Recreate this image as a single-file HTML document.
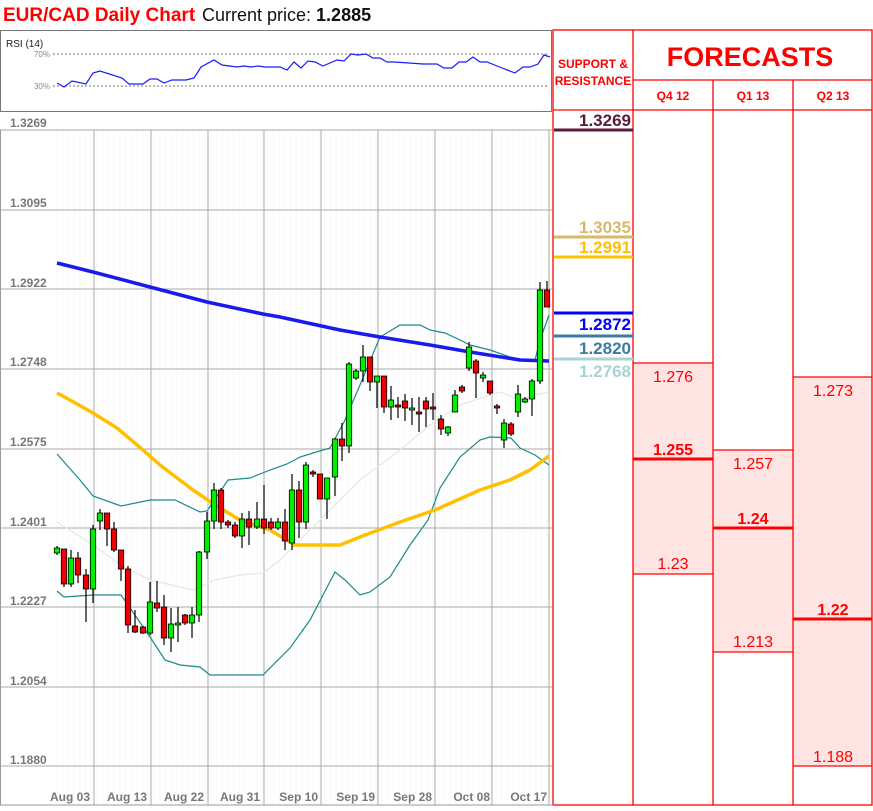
<!DOCTYPE html>
<html><head><meta charset="utf-8"><style>
body{margin:0;background:#fff;width:873px;height:806px;overflow:hidden;font-family:"Liberation Sans",sans-serif}
svg text{font-family:"Liberation Sans",sans-serif}
</style></head><body>
<svg id="s" width="873" height="806" xmlns="http://www.w3.org/2000/svg">
<rect width="873" height="806" fill="#fff"/>
<text x="3" y="21" font-size="19" font-weight="bold" fill="#ff0000">EUR/CAD Daily Chart</text>
<text x="202" y="21" font-size="18" fill="#111">Current price: <tspan font-weight="bold">1.2885</tspan></text>
<!-- RSI -->
<rect x="0.5" y="30.5" width="551" height="81" fill="#fff" stroke="#777"/>
<text x="6" y="47" font-size="10" fill="#222">RSI (14)</text>
<line x1="53" y1="54" x2="549" y2="54" stroke="#777" stroke-dasharray="2,2"/>
<line x1="53" y1="86" x2="549" y2="86" stroke="#777" stroke-dasharray="2,2"/>
<text x="50" y="57" font-size="8" fill="#888" text-anchor="end">70%</text>
<text x="50" y="89" font-size="8" fill="#888" text-anchor="end">30%</text>
<polyline fill="none" stroke="#1a1aff" stroke-width="1.2" points="57,83 64,87 72,81 86,84 93,73 100,71 122,78 129,84 143,84 150,79 157,79 164,83 172,80 186,80 194,78 201,67 214,60 222,65 237,67 244,66 251,67 258,66 265,67 280,67 287,70 294,62 301,68 308,61 315,62 323,66 337,60 344,61 351,54 358,55 366,54 373,58 380,58 387,62 394,62 409,63 423,64 437,64 444,68 452,68 459,62 466,62 473,57 480,62 487,62 502,68 515,73 523,67 530,67 538,64 544,55 550,57"/>
<!-- main chart -->
<g id="grid"></g>
<line x1="0.5" y1="130" x2="0.5" y2="805" stroke="#999"/>
<line x1="0" y1="805" x2="552" y2="805" stroke="#999"/>
<g font-size="12" fill="#777" font-weight="bold">
<text x="10" y="127">1.3269</text><text x="10" y="207">1.3095</text><text x="10" y="287">1.2922</text><text x="10" y="366">1.2748</text><text x="10" y="446">1.2575</text><text x="10" y="526">1.2401</text><text x="10" y="605">1.2227</text><text x="10" y="685">1.2054</text><text x="10" y="764">1.1880</text>
</g>
<g font-size="12" fill="#777" font-weight="bold" text-anchor="end">
<text x="90" y="801">Aug 03</text><text x="147" y="801">Aug 13</text><text x="204" y="801">Aug 22</text><text x="260" y="801">Aug 31</text><text x="318" y="801">Sep 10</text><text x="375" y="801">Sep 19</text><text x="432" y="801">Sep 28</text><text x="490" y="801">Oct 08</text><text x="547" y="801">Oct 17</text>
</g>
<polyline fill="none" stroke="#e6e6e6" stroke-width="1.2" points="57,522 93,545 121,565 150,580 193,590 215,580 240,575 263,573 280,560 300,540 330,510 360,480 400,450 430,425 460,405 490,395 500,392 520,400 535,395 549,392"/>
<polyline fill="none" stroke="#1b8a8a" stroke-width="1.2" points="57,454 80,480 93,496 121,506 150,500 175,500 200,512 207,511 228,480 250,478 270,470 287,464 300,457 313,453 330,448 345,420 360,385 380,337 400,325 420,325 430,330 445,333 460,340 470,345 490,350 510,357 525,360 535,360 540,340 549,315"/>
<polyline fill="none" stroke="#1b8a8a" stroke-width="1.2" points="57,591 64,597 93,595 121,595 128,605 150,637 165,660 180,665 200,667 210,675 263,675 290,648 310,620 335,572 345,580 360,595 370,592 390,577 410,545 428,520 440,488 460,457 480,440 490,437 511,438 520,448 535,455 549,465"/>
<polyline fill="none" stroke="#ffc000" stroke-width="3.5" stroke-linejoin="round" points="57,393 70,400 93,413 117,428 143,450 160,465 193,490 215,505 240,520 270,530 295,545 340,545 365,535 400,522 435,510 480,490 510,480 530,470 549,456"/>
<polyline fill="none" stroke="#1a1aee" stroke-width="3.5" stroke-linejoin="round" points="57,263 93,272 150,287 207,302 263,314 280,317 340,330 380,337 430,345 470,352 520,360 549,361"/>
<g id="candles"></g>
<!-- table -->
<rect x="633" y="363" width="80" height="211" fill="#ffe4e4"/>
<rect x="713" y="450" width="80" height="202" fill="#ffe4e4"/>
<rect x="793" y="377" width="79" height="389" fill="#ffe4e4"/>
<g stroke="#f00" stroke-width="1.3" fill="none">
<rect x="553" y="30" width="319" height="775"/>
<line x1="633" y1="30" x2="633" y2="805"/><line x1="713" y1="80" x2="713" y2="805"/><line x1="793" y1="80" x2="793" y2="805"/>
<line x1="633" y1="80" x2="872" y2="80"/><line x1="553" y1="110" x2="872" y2="110"/>
<line x1="633" y1="363" x2="713" y2="363"/><line x1="633" y1="574" x2="713" y2="574"/>
<line x1="713" y1="450" x2="793" y2="450"/><line x1="713" y1="652" x2="793" y2="652"/>
<line x1="793" y1="377" x2="872" y2="377"/><line x1="793" y1="766" x2="872" y2="766"/>
</g>
<g stroke="#f00" stroke-width="3"><line x1="633" y1="459" x2="713" y2="459"/><line x1="713" y1="528" x2="793" y2="528"/><line x1="793" y1="619" x2="872" y2="619"/></g>
<g fill="#f00" font-weight="bold" text-anchor="middle">
<text x="593" y="68" font-size="12">SUPPORT &amp;</text><text x="593" y="85" font-size="12">RESISTANCE</text>
<text x="750" y="66" font-size="27">FORECASTS</text>
<text x="673" y="100" font-size="12">Q4 12</text><text x="753" y="100" font-size="12">Q1 13</text><text x="833" y="100" font-size="12">Q2 13</text>
<text x="673" y="455" font-size="16">1.255</text><text x="753" y="524" font-size="16">1.24</text><text x="833" y="615" font-size="16">1.22</text>
</g>
<g fill="#f00" text-anchor="middle" font-size="16">
<text x="673" y="382">1.276</text><text x="673" y="569">1.23</text>
<text x="753" y="469">1.257</text><text x="753" y="647">1.213</text>
<text x="833" y="396">1.273</text><text x="833" y="762">1.188</text>
</g>
<g stroke-width="3">
<line x1="554" y1="130" x2="633" y2="130" stroke="#5c1a3a"/>
<line x1="554" y1="237" x2="633" y2="237" stroke="#d9b86a"/>
<line x1="554" y1="257" x2="633" y2="257" stroke="#ffc000"/>
<line x1="554" y1="313" x2="633" y2="313" stroke="#0000ff"/>
<line x1="554" y1="336" x2="633" y2="336" stroke="#3a7ca5"/>
<line x1="554" y1="359" x2="633" y2="359" stroke="#a9d4d4"/>
</g>
<g font-size="17" font-weight="bold" text-anchor="end">
<text x="631" y="126" fill="#5c1a3a">1.3269</text>
<text x="631" y="233" fill="#d9b86a">1.3035</text>
<text x="631" y="253" fill="#ffc000">1.2991</text>
<text x="631" y="330" fill="#0000ff">1.2872</text>
<text x="631" y="354" fill="#3a7ca5">1.2820</text>
<text x="631" y="377" fill="#a9d4d4">1.2768</text>
</g>
</svg>
<script>
var NS="http://www.w3.org/2000/svg";
function el(p,t,a){var e=document.createElementNS(NS,t);for(var k in a)e.setAttribute(k,a[k]);p.appendChild(e);return e;}
var g=document.getElementById("grid");
for(var x=57;x<549;x+=5.7)el(g,"line",{x1:x,y1:130,x2:x,y2:805,stroke:"#f9f9f9","stroke-width":1});
[130,210,289,369,449,528,607,687,766].forEach(function(y){el(g,"line",{x1:0,y1:y,x2:552,y2:y,stroke:"#aaa","stroke-width":1});});
[94,151,208,264,321,378,435,492,549].forEach(function(x){el(g,"line",{x1:x,y1:130,x2:x,y2:805,stroke:"#aaa","stroke-width":1});});
var C=[[57,548,553,546,555,1],[64,549,584,549,587,0],[71,558,584,550,587,1],[78,558,575,552,583,0],[86,575,589,569,622,0],[93,529,589,525,603,1],[100,513,521,509,530,1],[107,513,529,513,546,0],[114,529,550,522,552,0],[121,550,569,550,581,0],[128,569,625,566,633,0],[135,626,632,610,633,0],[143,627,633,626,634,0],[150,602,633,582,635,1],[157,603,608,581,612,0],[164,607,638,595,645,0],[171,624,638,608,652,1],[178,623,625,607,642,1],[185,615,623,614,625,0],[192,615,623,607,638,1],[199,552,615,551,622,1],[207,521,552,512,559,1],[214,490,521,483,529,1],[221,490,522,488,529,0],[228,522,525,520,528,0],[235,525,536,522,538,0],[242,519,536,513,548,1],[249,519,527,511,545,0],[257,519,527,502,529,1],[264,519,528,485,534,0],[271,522,528,518,530,0],[278,522,528,518,530,1],[285,522,541,509,550,0],[292,490,543,474,550,1],[299,490,522,481,538,0],[306,465,522,462,529,1],[313,472,474,470,477,0],[320,474,499,474,499,0],[327,478,499,478,519,1],[335,439,477,438,496,1],[342,439,446,423,461,0],[349,364,446,362,453,1],[356,371,378,369,380,1],[363,357,371,345,382,1],[370,357,382,357,391,0],[377,376,382,376,408,1],[384,376,407,376,413,0],[391,400,407,386,420,1],[398,405,407,397,418,0],[405,401,408,394,421,0],[412,408,410,398,425,1],[419,412,414,397,432,0],[426,401,409,397,427,0],[433,407,409,393,420,0],[441,419,429,415,435,0],[448,427,433,426,436,1],[455,395,412,390,412,1],[462,387,391,385,393,0],[469,347,368,342,371,1],[476,361,373,359,398,0],[483,375,378,372,382,1],[490,381,393,381,395,0],[497,406,408,404,414,0],[504,423,440,419,448,1],[511,424,434,422,436,0],[518,394,412,385,417,1],[525,399,402,397,403,1],[532,381,399,379,416,1],[540,290,381,282,384,1],[547,290,307,281,307,0]];
var cg=document.getElementById("candles");
C.forEach(function(c){
 el(cg,"line",{x1:c[0],y1:c[3],x2:c[0],y2:c[4],stroke:"#000","stroke-width":1.2});
 var h=Math.max(c[2]-c[1],1.5);
 el(cg,"rect",{x:c[0]-2.7,y:c[1],width:5.4,height:h,fill:c[5]?"#00ee00":"#ee0000",stroke:"#000","stroke-width":0.8});
});
</script>
</body></html>
